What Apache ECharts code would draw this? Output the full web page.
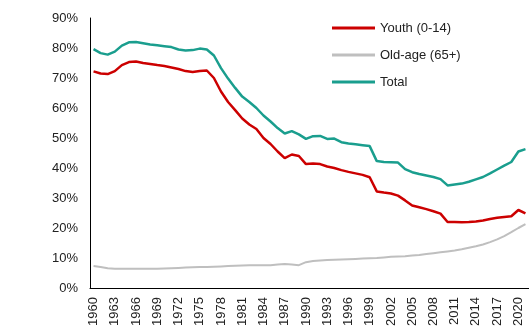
<!DOCTYPE html>
<html><head><meta charset="utf-8">
<script src="https://cdn.jsdelivr.net/npm/echarts@6/dist/echarts.min.js"></script>
<style>html,body{margin:0;padding:0;background:#fff}#c{width:529px;height:329px}</style>
</head><body><div id="c"></div>
<script>
const years = [];
for (let y = 1960; y <= 2021; y++) years.push(String(y));
const youth = [72.2,71.5,71.3,72.3,74.3,75.3,75.5,75.0,74.7,74.3,74.0,73.5,73.0,72.3,72.0,72.3,72.5,70.0,65.5,62.0,59.3,56.5,54.5,53.0,50.0,48.0,45.5,43.3,44.5,44.0,41.3,41.5,41.3,40.5,40.0,39.3,38.7,38.2,37.7,36.9,32.2,31.8,31.5,30.8,29.2,27.5,26.9,26.3,25.6,24.8,22.0,22.0,21.9,22.0,22.2,22.5,23.0,23.4,23.7,23.9,26.0,24.9];
const oldAge = [7.3,7.0,6.6,6.4,6.4,6.4,6.4,6.4,6.4,6.4,6.5,6.6,6.7,6.8,6.9,7.0,7.0,7.1,7.2,7.3,7.4,7.5,7.6,7.6,7.6,7.6,7.8,8.0,7.8,7.6,8.6,9.0,9.2,9.3,9.4,9.5,9.6,9.7,9.8,9.9,10.0,10.2,10.4,10.5,10.6,10.8,11.0,11.3,11.6,11.9,12.2,12.5,12.9,13.4,13.9,14.5,15.3,16.2,17.3,18.6,20.0,21.3];
const total = [79.6,78.3,77.8,78.8,80.8,81.9,82.0,81.6,81.2,80.9,80.6,80.3,79.5,79.2,79.3,79.8,79.5,77.5,73.3,69.8,66.7,63.8,62.0,60.0,57.5,55.5,53.3,51.5,52.3,51.2,49.7,50.6,50.7,49.7,49.8,48.6,48.2,47.9,47.6,47.3,42.3,42.0,41.9,41.8,39.6,38.6,38.0,37.5,37.0,36.3,34.2,34.5,34.8,35.4,36.2,37.0,38.2,39.5,40.8,42.0,45.5,46.3];
const seriesNames = ['Youth (0-14)','Old-age (65+)','Total'];
const yTicks = [0,10,20,30,40,50,60,70,80,90];

const chart = echarts.init(document.getElementById('c'), null, {renderer:'canvas'});
const font = 'Arial, "Liberation Sans", sans-serif';
chart.setOption({
  animation:false,
  backgroundColor:'#fff',
  grid:{left:90,right:0,top:18,bottom:41},
  legend:{
    orient:'vertical', left:327, top:15, icon:'rect', itemWidth:43, itemHeight:3, itemGap:11,
    textStyle:{fontFamily:font,fontSize:13,color:'#222',lineHeight:16},
    data:seriesNames
  },
  xAxis:{
    type:'category', data:years, boundaryGap:true,
    axisLine:{lineStyle:{color:'#000',width:1}},
    axisTick:{show:false},
    axisLabel:{interval:2,rotate:90,margin:9,fontFamily:font,fontSize:13,color:'#222'}
  },
  yAxis:{
    type:'value', min:yTicks[0], max:yTicks[yTicks.length-1], interval:10,
    axisLine:{show:true,lineStyle:{color:'#000',width:1}},
    axisTick:{show:false},
    splitLine:{show:false},
    axisLabel:{formatter:'{value}%',margin:12,fontFamily:font,fontSize:13,color:'#222'}
  },
  series:[
    {name:seriesNames[0],type:'line',data:youth,showSymbol:false,symbol:'none',lineStyle:{color:'#CC0000',width:2.5},itemStyle:{color:'#CC0000'},z:3},
    {name:seriesNames[1],type:'line',data:oldAge,showSymbol:false,symbol:'none',lineStyle:{color:'#BFBFBF',width:2},itemStyle:{color:'#BFBFBF'},z:2},
    {name:seriesNames[2],type:'line',data:total,showSymbol:false,symbol:'none',lineStyle:{color:'#1A9E8E',width:2.5},itemStyle:{color:'#1A9E8E'},z:3}
  ]
});
</script></body></html>
